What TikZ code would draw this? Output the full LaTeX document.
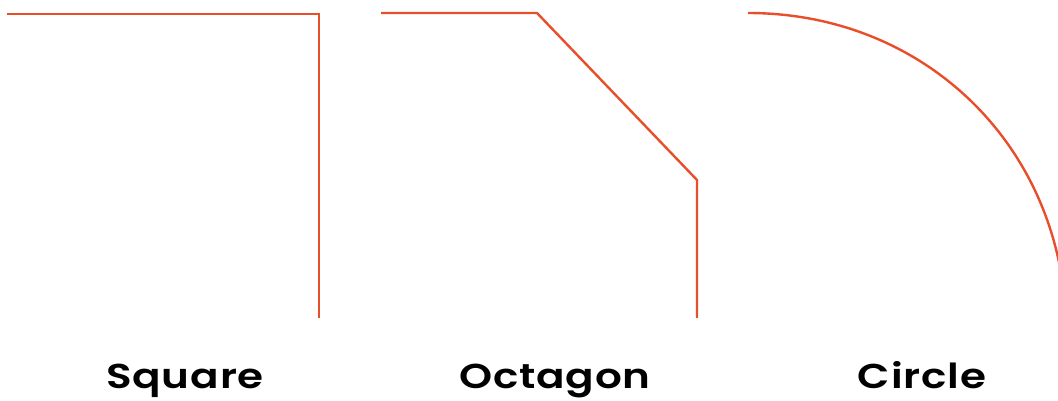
\documentclass[tikz,border=0pt]{standalone}
\usepackage{fontspec}
\setmainfont{Poppins}[UprightFont=*-SemiBold, LetterSpace=2]
\definecolor{cornerred}{HTML}{E94E2A}
\newcommand{\capwide}[1]{\scalebox{1.22}[1]{#1}}
\begin{document}
\begin{tikzpicture}[x=1pt, y=1pt,
    outline/.style={draw=cornerred, line width=2.4pt},
    caption/.style={anchor=base, inner sep=0pt, font=\fontsize{34.5}{38}\selectfont}]
  \useasboundingbox (0,0) rectangle (1058,401);
  % square corner
  \coordinate (sqA) at (7,387);
  \coordinate (sqB) at (319,387);
  \coordinate (sqC) at (319,83);
  \draw[outline] (sqA) -- (sqB) -- (sqC);
  % octagon corner
  \coordinate (ocA) at (381,388);
  \coordinate (ocB) at (537,388);
  \coordinate (ocC) at (697,221);
  \coordinate (ocD) at (697,83);
  \draw[outline] (ocA) -- (ocB) -- (ocC) -- (ocD);
  % circle corner
  \coordinate (ciA) at (748,388);
  \coordinate (ciB) at (1066,70);
  \begin{scope}
    \clip (0,0) rectangle (1058,401);
    \draw[outline] (ciA) .. controls (930,388) and (1066,248) .. (ciB);
  \end{scope}
  \node[caption] (square) at (185,12) {\capwide{Square}};
  \node[caption] (octagon) at (555,12) {\capwide{Octagon}};
  \node[caption] (circle) at (922,12) {\capwide{Circle}};
\end{tikzpicture}
\end{document}
